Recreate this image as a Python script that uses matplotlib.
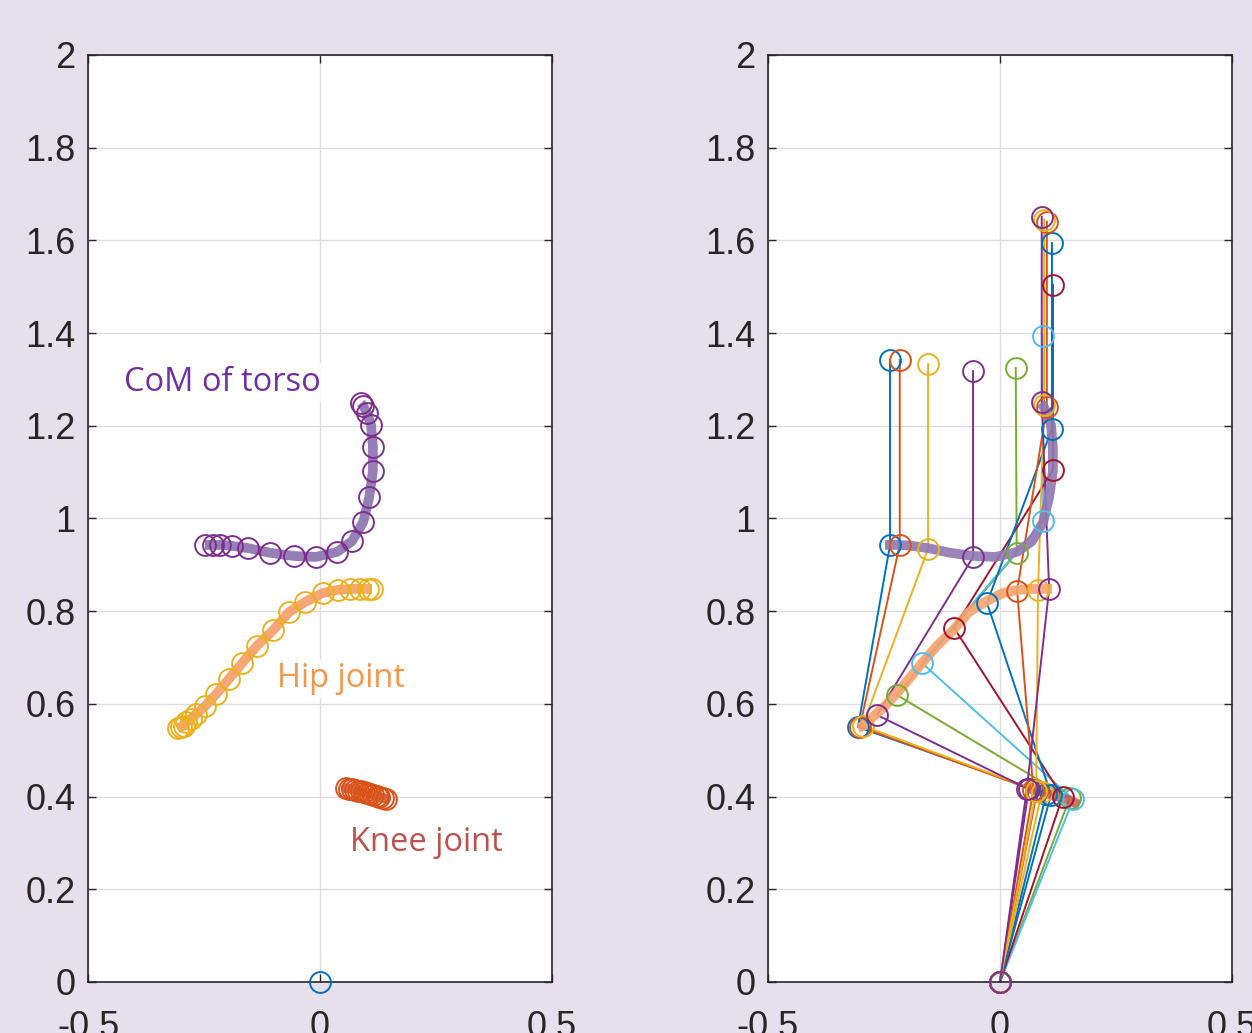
import matplotlib
matplotlib.use('Agg')
import matplotlib.pyplot as plt

# MATLAB colour order
cols = ['#0072BD', '#D95319', '#EDB120', '#7E2F8E', '#77AC30', '#4DBEEE', '#A2142F']

# ---- left panel: trajectories ----
com_x = [-0.248, -0.231, -0.216, -0.190, -0.155, -0.108, -0.056, -0.009, 0.037, 0.069,
         0.093, 0.106, 0.114, 0.114, 0.110, 0.101, 0.093, 0.088]
com_y = [0.943, 0.943, 0.943, 0.941, 0.936, 0.926, 0.919, 0.917, 0.928, 0.951,
         0.992, 1.046, 1.102, 1.154, 1.202, 1.228, 1.243, 1.249]

hip_x = [-0.306, -0.300, -0.294, -0.289, -0.278, -0.267, -0.248, -0.224, -0.196, -0.168,
         -0.136, -0.101, -0.067, -0.032, 0.006, 0.039, 0.065, 0.086, 0.103, 0.112]
hip_y = [0.548, 0.550, 0.553, 0.561, 0.568, 0.578, 0.595, 0.621, 0.654, 0.688,
         0.725, 0.759, 0.798, 0.820, 0.839, 0.846, 0.848, 0.848, 0.848, 0.848]

knee_x = [0.055, 0.062, 0.068, 0.075, 0.082, 0.088, 0.095, 0.102, 0.108, 0.115,
          0.122, 0.128, 0.135, 0.142]
knee_y = [0.418, 0.417, 0.416, 0.414, 0.412, 0.411, 0.409, 0.407, 0.405, 0.403,
          0.401, 0.399, 0.397, 0.395]

# ---- right panel: stick figure frames (top of torso, CoM, hip, knee, foot) ----
top_x = [-0.237, -0.216, -0.155, -0.058, 0.034, 0.093, 0.114, 0.112, 0.101, 0.095, 0.090]
top_y = [1.342, 1.342, 1.333, 1.318, 1.325, 1.394, 1.504, 1.594, 1.640, 1.645, 1.651]
fcom_x = [-0.237, -0.216, -0.155, -0.058, 0.036, 0.093, 0.114, 0.112, 0.101, 0.095, 0.090]
fcom_y = [0.943, 0.943, 0.934, 0.917, 0.926, 0.995, 1.104, 1.194, 1.240, 1.245, 1.251]
fhip_x = [-0.306, -0.302, -0.296, -0.265, -0.222, -0.168, -0.099, -0.028, 0.037, 0.082, 0.106]
fhip_y = [0.550, 0.551, 0.553, 0.576, 0.619, 0.688, 0.764, 0.818, 0.844, 0.846, 0.848]
fknee_x = [0.100, 0.080, 0.090, 0.062, 0.150, 0.158, 0.135, 0.110, 0.072, 0.078, 0.058]
fknee_y = [0.406, 0.411, 0.409, 0.416, 0.396, 0.394, 0.400, 0.404, 0.414, 0.412, 0.417]
foot_x = 0.0
foot_y = 0.0

yticks = [0, 0.2, 0.4, 0.6, 0.8, 1, 1.2, 1.4, 1.6, 1.8, 2]
ytlabels = ['0', '0.2', '0.4', '0.6', '0.8', '1', '1.2', '1.4', '1.6', '1.8', '2']
xticks = [-0.5, 0, 0.5]
xtlabels = ['-0.5', '0', '0.5']

plt.rcParams['font.family'] = ['Liberation Sans', 'DejaVu Sans']

fig = plt.figure(figsize=(12.52, 10.33), dpi=100, facecolor='#E6E0EC')
ax1 = fig.add_axes([0.0703, 0.0494, 0.3706, 0.8974])
ax2 = fig.add_axes([0.6134, 0.0494, 0.3706, 0.8974])

for ax in (ax1, ax2):
    ax.set_xlim(-0.5, 0.5)
    ax.set_ylim(0, 2)
    ax.set_xticks(xticks)
    ax.set_xticklabels(xtlabels)
    ax.set_yticks(yticks)
    ax.set_yticklabels(ytlabels)
    ax.tick_params(direction='in', length=6, width=1, top=True, right=True,
                   labelsize=26, colors='#262626')
    ax.tick_params(axis='y', pad=9)
    ax.tick_params(axis='x', pad=20)
    ax.grid(True, color='#DCDCDC', lw=1)
    ax.set_axisbelow(True)
    for s in ax.spines.values():
        s.set_color('#262626')
        s.set_linewidth(1.2)

mk = dict(marker='o', ms=15, mfc='none', mew=1.4, ls='none', clip_on=False, zorder=5)

# left panel
ax1.plot(com_x, com_y, color='#8F78B2', lw=7, alpha=0.95, solid_capstyle='butt', zorder=3)
ax1.plot(hip_x, hip_y, color='#F6A26E', lw=7, alpha=0.95, solid_capstyle='butt', zorder=3)
ax1.plot(knee_x, knee_y, color='#D04E2E', lw=7, alpha=0.85, solid_capstyle='round', zorder=3)
ax1.plot(com_x, com_y, mec=cols[3], **mk)
ax1.plot(hip_x, hip_y, mec=cols[2], **mk)
ax1.plot(knee_x, knee_y, mec=cols[1], **mk)
ax1.plot([foot_x], [foot_y], mec=cols[0], **mk)

box = dict(facecolor='white', edgecolor='none', alpha=0.85, pad=2)
lbl_font = ['Open Sans', 'DejaVu Sans']
ax1.text(-0.422, 1.294, 'CoM of torso', color='#7030A0', fontsize=23.5, family=lbl_font,
         va='center', ha='left', bbox=box, zorder=6)
ax1.text(-0.093, 0.654, 'Hip joint', color='#F79646', fontsize=23.5, family=lbl_font,
         va='center', ha='left', bbox=box, zorder=6)
ax1.text(0.065, 0.300, 'Knee joint', color='#C0504D', fontsize=23.5, family=lbl_font,
         va='center', ha='left', bbox=box, zorder=6)

# right panel
for i in range(len(top_x)):
    c = cols[i % len(cols)]
    xs = [top_x[i], fcom_x[i], fhip_x[i], fknee_x[i], foot_x]
    ys = [top_y[i], fcom_y[i], fhip_y[i], fknee_y[i], foot_y]
    ax2.plot(xs, ys, color=c, lw=1.4, zorder=2)
    ax2.plot(xs, ys, mec=c, **mk)

ax2.plot(com_x, com_y, color='#8F78B2', lw=7, alpha=0.9, solid_capstyle='butt', zorder=3)
ax2.plot(hip_x, hip_y, color='#F6A26E', lw=7, alpha=0.9, solid_capstyle='butt', zorder=3)
ax2.plot(knee_x + [0.172], knee_y + [0.382], color='#C8504A', lw=7, alpha=0.8,
         solid_capstyle='butt', zorder=3)

fig.savefig('out.png', dpi=100, facecolor=fig.get_facecolor())
